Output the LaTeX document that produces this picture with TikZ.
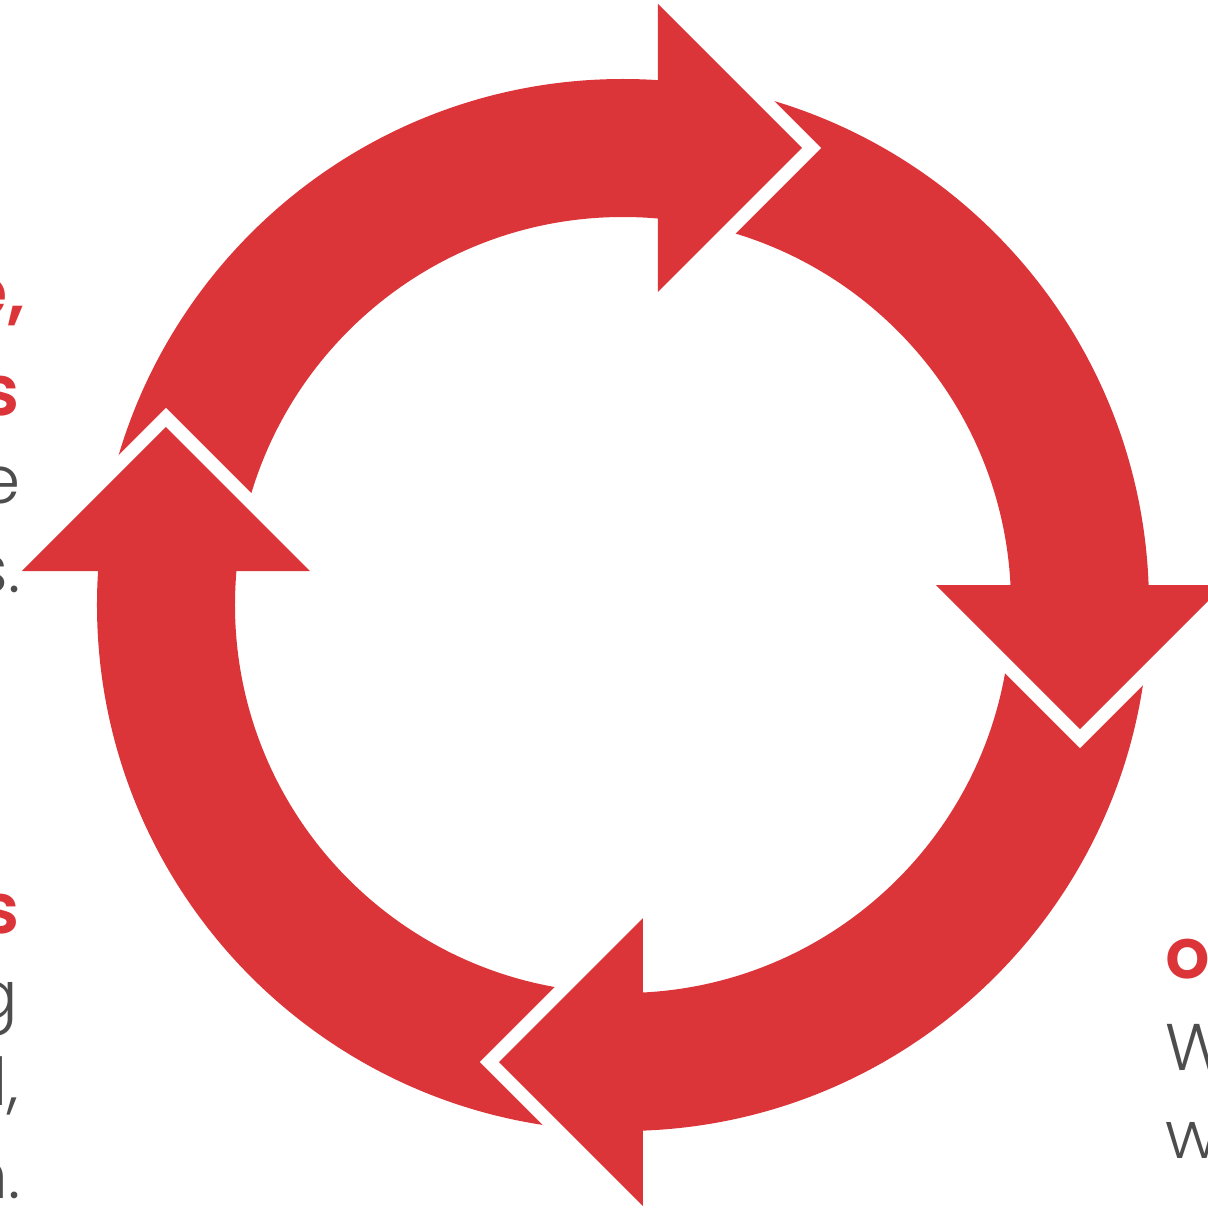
\documentclass[tikz,border=0pt]{standalone}
\usepackage{fontspec}
\setmainfont{Poppins}
\newfontfamily\thinfont{Poppins Light}
\newfontfamily\semifont{Poppins SemiBold}
\definecolor{cyclered}{HTML}{DC3539}
\definecolor{bodygray}{HTML}{4D4D4D}

\begin{document}
\begin{tikzpicture}[x=0.5pt, y=0.5pt,
    ringfill/.style={fill=cyclered},
    gapline/.style={draw=white, line width=13.5pt, line join=miter},
    redtxt/.style={text=cyclered, font=\fontsize{35}{42}\selectfont\semifont, inner sep=0pt},
    graytxt/.style={text=bodygray, font=\fontsize{33}{42}\selectfont\thinfont, inner sep=0pt}]

    % Fix the frame of the picture
    \useasboundingbox (-623,-606) rectangle (585,605);

    % Draw the ring that carries the four arrows
    \fill[ringfill, even odd rule] (0,0) circle (526) (0,0) circle (388);

    % Draw the four heads, each with a white gap towards the next arrow
    \foreach \bx/\by/\rot in {35/457/0, 457/20/-90, 20/-457/180, -457/34/90} {
        \begin{scope}[shift={(\bx,\by)}, rotate=\rot]
            \draw[gapline] (0,144) -- (144,0) -- (0,-144);
            \fill[ringfill] (0,144) -- (144,0) -- (0,-144) -- cycle;
        \end{scope}
    }

    % Texts cut by the left edge, upper group
    \node[redtxt, anchor=base east] (topa) at (-597,288) {e,};
    \node[redtxt, anchor=base east] (topb) at (-603,190) {s};
    \node[graytxt, anchor=base east] (topc) at (-602,102) {e};
    \node[graytxt, anchor=base east] (topd) at (-602,13) {s.};

    % Texts cut by the left edge, lower group
    \node[redtxt, anchor=base east] (lowa) at (-603,-328) {s};
    \node[graytxt, anchor=base east] (lowb) at (-605,-413) {g};
    \node[graytxt, anchor=base east] (lowc) at (-604,-500) {l,};
    \node[graytxt, anchor=base east] (lowd) at (-602,-593) {n.};

    % Texts cut by the right edge
    \node[redtxt, anchor=base west] (rgta) at (542,-373) {o};
    \node[graytxt, anchor=base west] (rgtb) at (542,-465) {W};
    \node[graytxt, anchor=base west] (rgtc) at (542,-553) {w};

\end{tikzpicture}
\end{document}
